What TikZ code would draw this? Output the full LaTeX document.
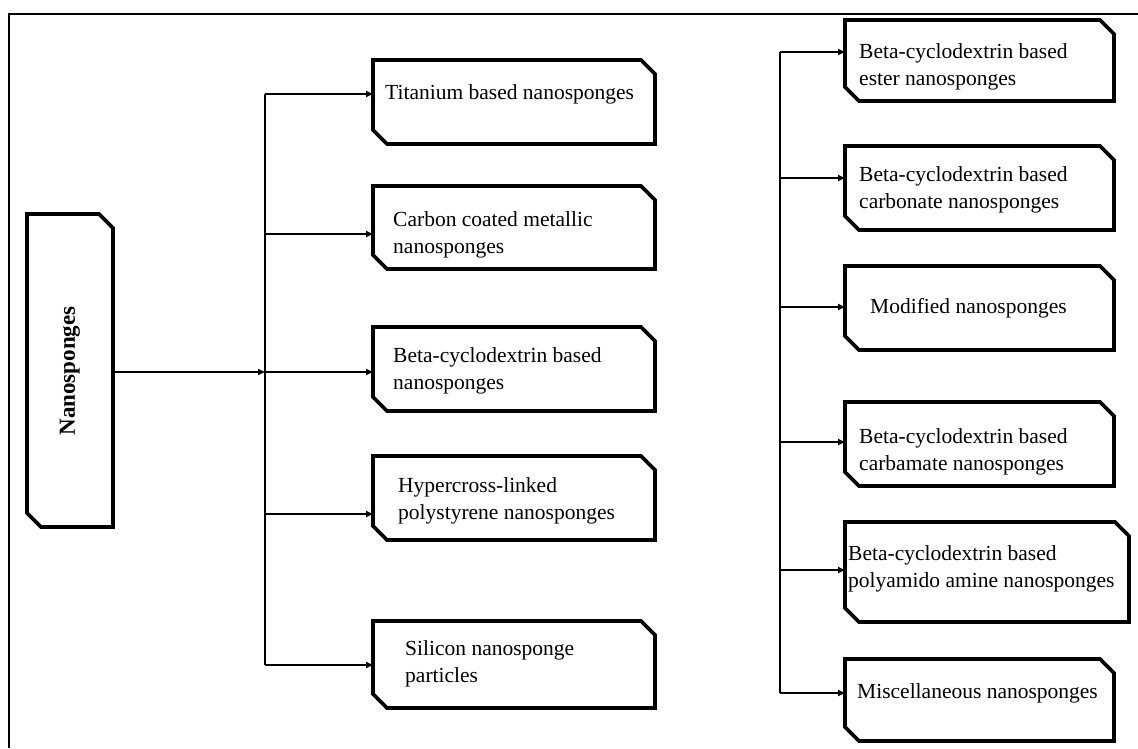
\documentclass[tikz,border=0pt]{standalone}
\usepackage{fontspec}
\setmainfont{Liberation Serif}
\usetikzlibrary{arrows.meta,fit}

\tikzset{
  boxnode/.style={rectangle, draw=none, inner sep=0pt, outer sep=0pt},
  outline/.style={line width=3.6pt, line join=miter},
  conn/.style={line width=2.2pt},
  arr/.style={line width=2.2pt, -{Triangle[length=7pt,width=6pt]}},
  lbl/.style={font=\fontsize{21.5}{27}\selectfont, align=left, inner sep=0pt, anchor=west},
  frame/.style={line width=2.4pt},
}
\newcommand{\cutsz}{14pt}

\begin{document}
\begin{tikzpicture}[x=1pt,y=-1pt]
\useasboundingbox (0,0) rectangle (1138,748);

% page frame (top and left edges)
\coordinate (fa) at (9,748);
\coordinate (fb) at (9,14);
\coordinate (fc) at (1138,14);
\draw[frame] (fa) -- (fb) -- (fc);

% root
\node[boxnode, fit={(27,214) (113,527)}] (ns) {};
\node[font=\fontsize{23}{28}\selectfont\bfseries, rotate=90, inner sep=0pt] (nst) at (70,371) {Nanosponges};

% left column
\node[boxnode, fit={(373,60) (655,144)}]  (l1) {};
\node[boxnode, fit={(373,186) (655,269)}] (l2) {};
\node[boxnode, fit={(373,327) (655,411)}] (l3) {};
\node[boxnode, fit={(373,456) (655,540)}] (l4) {};
\node[boxnode, fit={(373,621) (655,708)}] (l5) {};

\node[lbl] (l1t) at (385,94)  {Titanium based nanosponges};
\node[lbl] (l2t) at (393,235) {Carbon coated metallic\\nanosponges};
\node[lbl] (l3t) at (393,371) {Beta-cyclodextrin based\\nanosponges};
\node[lbl] (l4t) at (398,501) {Hypercross-linked\\polystyrene nanosponges};
\node[lbl] (l5t) at (405,664) {Silicon nanosponge\\particles};

% right column
\node[boxnode, fit={(845,20) (1114,101)}]  (r1) {};
\node[boxnode, fit={(845,146) (1114,230)}] (r2) {};
\node[boxnode, fit={(845,266) (1114,350)}] (r3) {};
\node[boxnode, fit={(845,402) (1114,486)}] (r4) {};
\node[boxnode, fit={(845,522) (1129,622)}] (r5) {};
\node[boxnode, fit={(845,659) (1114,741)}] (r6) {};

\node[lbl] (r1t) at (859,67)  {Beta-cyclodextrin based\\ester nanosponges};
\node[lbl] (r2t) at (859,190) {Beta-cyclodextrin based\\carbonate nanosponges};
\node[lbl] (r3t) at (870,308) {Modified nanosponges};
\node[lbl] (r4t) at (859,452) {Beta-cyclodextrin based\\carbamate nanosponges};
\node[lbl] (r5t) at (848,569) {Beta-cyclodextrin based\\polyamido amine nanosponges};
\node[lbl] (r6t) at (857,693) {Miscellaneous nanosponges};

% snipped-corner outlines
\foreach \b in {ns,l1,l2,l3,l4,l5,r1,r2,r3,r4,r5,r6}{
  \draw[outline] (\b.north west) -- ([xshift=-\cutsz]\b.north east)
    -- ([yshift=-\cutsz]\b.north east) -- (\b.south east)
    -- ([xshift=\cutsz]\b.south west) -- ([yshift=\cutsz]\b.south west) -- cycle;
}

% left branching
\coordinate (lj1) at (265,94);
\coordinate (lj2) at (265,234);
\coordinate (lj3) at (265,372);
\coordinate (lj4) at (265,514);
\coordinate (lj5) at (265,665);
\draw[conn] (lj1) -- (lj5);
\draw[arr] (ns.east |- lj3) -- (lj3);
\foreach \i in {1,...,5}{
  \draw[arr] (lj\i) -- (l\i.west |- lj\i);
}

% right branching
\coordinate (rj1) at (780,52);
\coordinate (rj2) at (780,178);
\coordinate (rj3) at (780,307);
\coordinate (rj4) at (780,442);
\coordinate (rj5) at (780,570);
\coordinate (rj6) at (780,693);
\draw[conn] (rj1) -- (rj6);
\foreach \i in {1,...,6}{
  \draw[arr] (rj\i) -- (r\i.west |- rj\i);
}
\end{tikzpicture}
\end{document}
